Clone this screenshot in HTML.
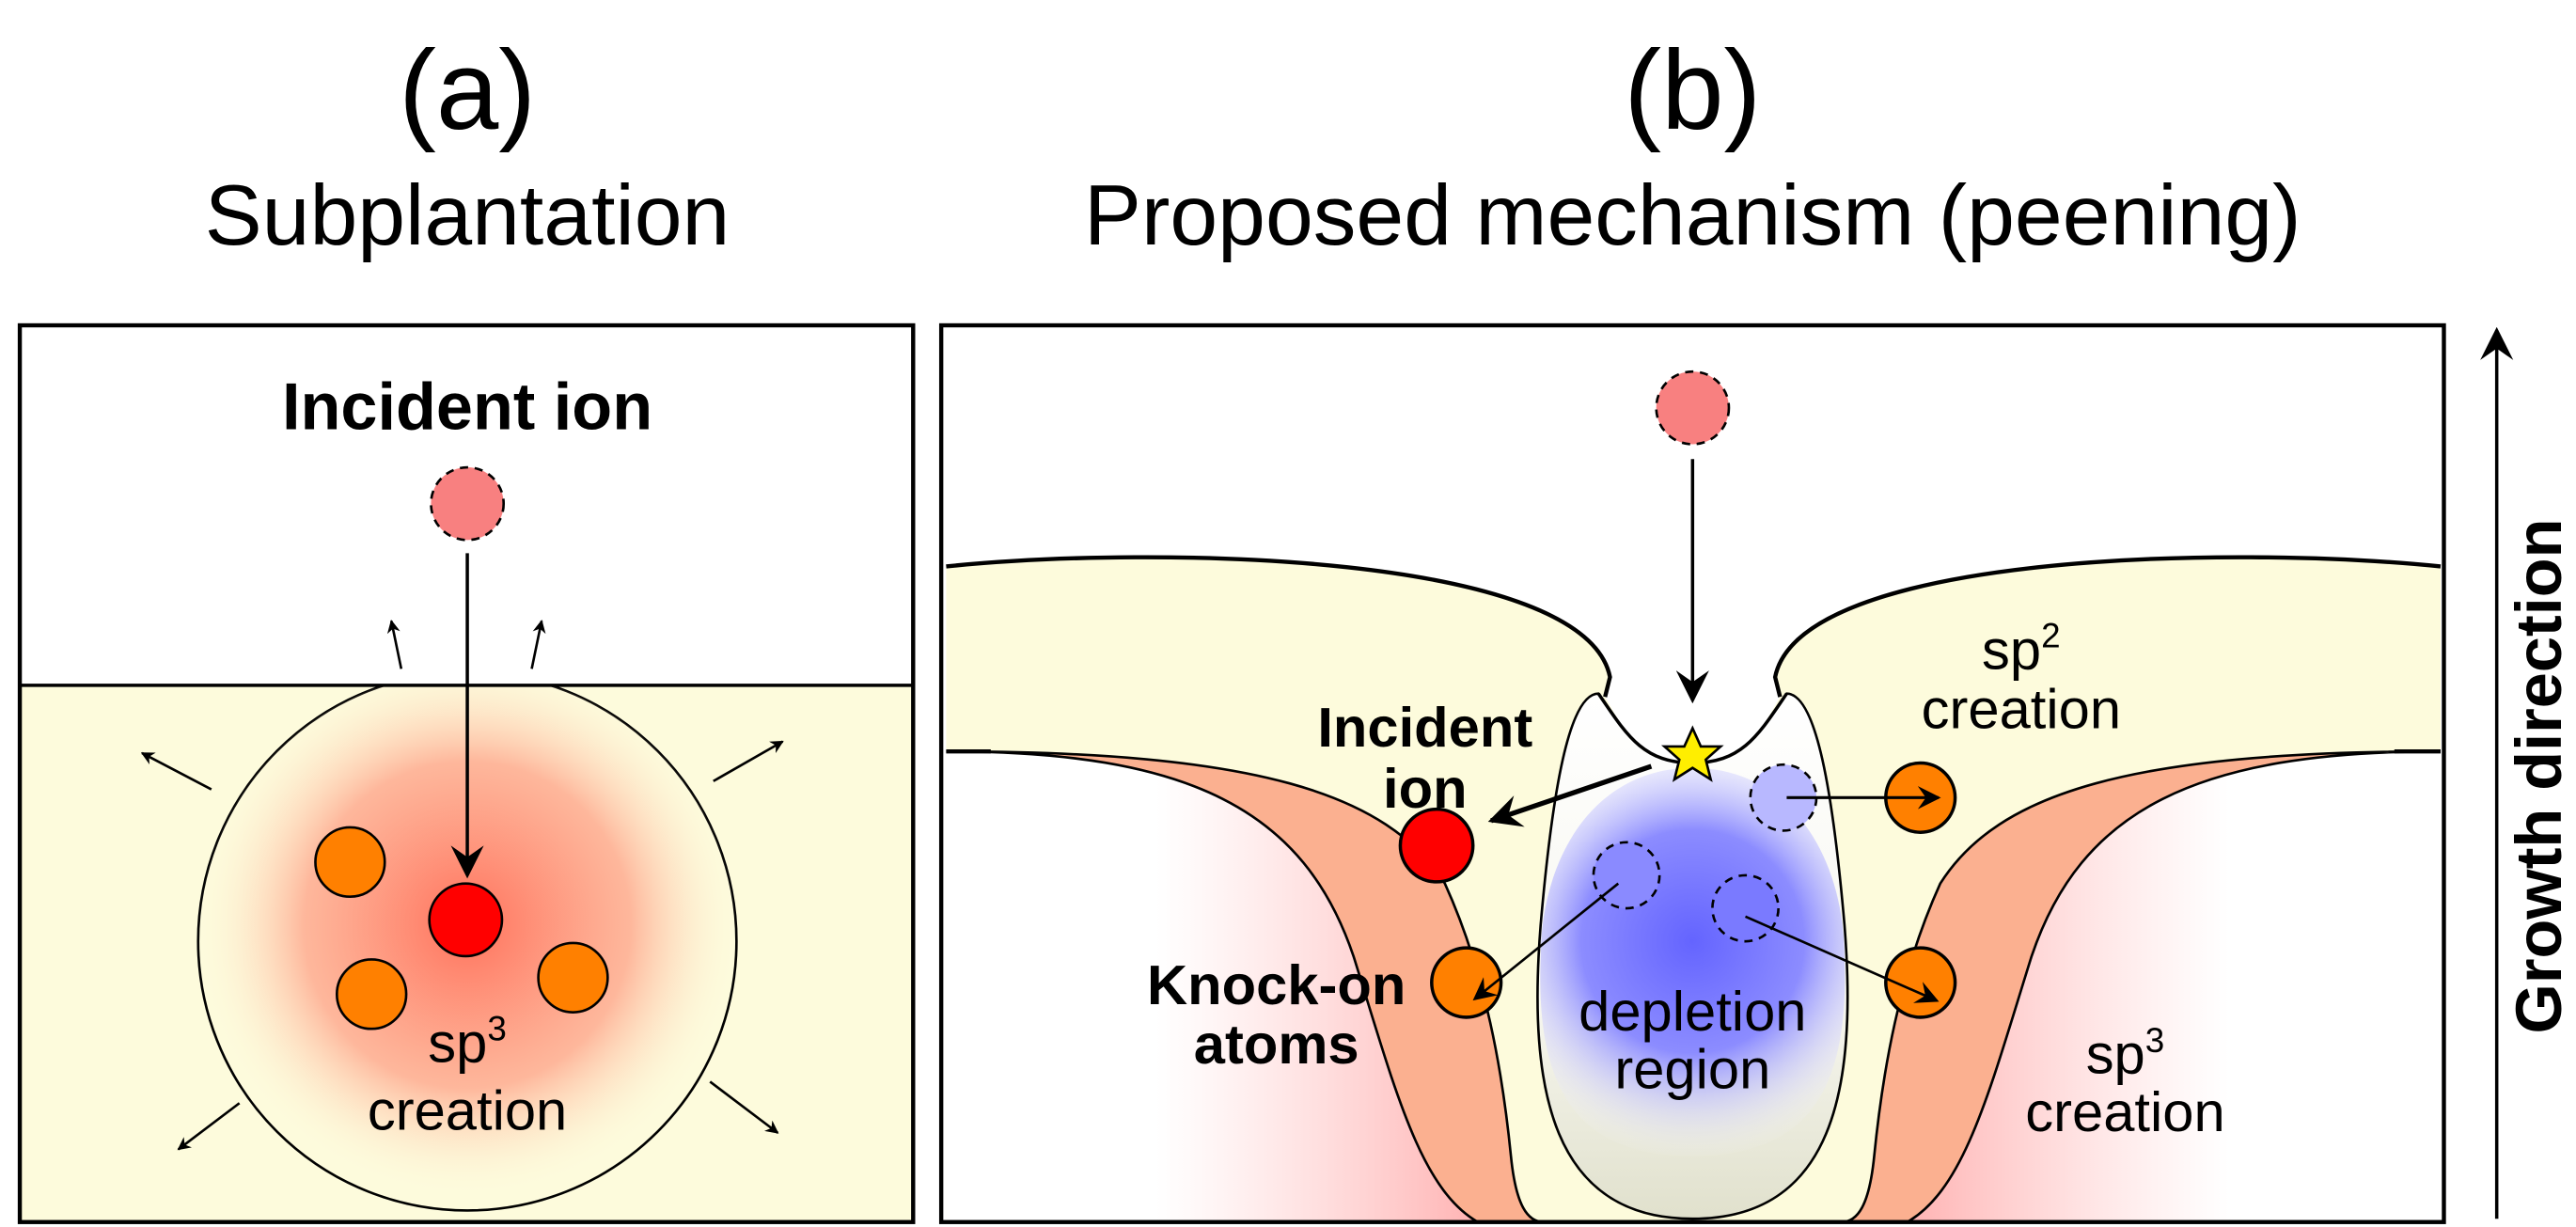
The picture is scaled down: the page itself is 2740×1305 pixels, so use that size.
<!DOCTYPE html>
<html><head><meta charset="utf-8"><style>html,body{margin:0;padding:0;background:#fff}svg{display:block}text{font-family:"Liberation Sans",Arial,sans-serif}</style></head>
<body>
<svg width="2740" height="1305" viewBox="0 0 1560 743" preserveAspectRatio="none" xmlns="http://www.w3.org/2000/svg">
<defs>
<marker id="ah" viewBox="0 0 10 10" refX="9" refY="5" markerWidth="8" markerHeight="8" orient="auto" markerUnits="userSpaceOnUse"><path d="M0,0 L10,5 L0,10 L3,5 z" fill="#000"/></marker>
<marker id="ahB" viewBox="0 0 10 10" refX="9" refY="5" markerWidth="20" markerHeight="20" orient="auto" markerUnits="userSpaceOnUse"><path d="M0,0 L10,5 L0,10 L3.5,5 z" fill="#000"/></marker>
<marker id="ahS" viewBox="0 0 10 10" refX="9" refY="5" markerWidth="14" markerHeight="14" orient="auto" markerUnits="userSpaceOnUse"><path d="M0,0 L10,5 L0,10 L3.5,5 z" fill="#000"/></marker>
<radialGradient id="rg" cx="283" cy="560" r="165" gradientUnits="userSpaceOnUse"><stop offset="0" stop-color="#ff6a55" stop-opacity="0.95"/><stop offset="0.6" stop-color="#ff9a80" stop-opacity="0.7"/><stop offset="1" stop-color="#fdfbdc" stop-opacity="0"/></radialGradient>
<radialGradient id="bg" cx="1025" cy="570" r="135" gradientUnits="userSpaceOnUse"><stop offset="0" stop-color="#6464ff"/><stop offset="0.5" stop-color="#8c8cff"/><stop offset="1" stop-color="#ffffff" stop-opacity="0"/></radialGradient>
<linearGradient id="ug" x1="0" y1="420" x2="0" y2="740" gradientUnits="userSpaceOnUse"><stop offset="0" stop-color="#ffffff"/><stop offset="0.6" stop-color="#f6f6ee"/><stop offset="1" stop-color="#e0e0cc"/></linearGradient>
<linearGradient id="pkL" x1="700" y1="0" x2="900" y2="0" gradientUnits="userSpaceOnUse"><stop offset="0" stop-color="#ffcccc" stop-opacity="0"/><stop offset="1" stop-color="#ffb0b0"/></linearGradient>
<linearGradient id="pkR" x1="1350" y1="0" x2="1150" y2="0" gradientUnits="userSpaceOnUse"><stop offset="0" stop-color="#ffcccc" stop-opacity="0"/><stop offset="1" stop-color="#ffb0b0"/></linearGradient>
<clipPath id="ca"><rect x="12" y="415" width="541" height="325"/></clipPath>
</defs>
<text x="283" y="78" font-size="68" text-anchor="middle">(a)</text>
<text x="283" y="148" font-size="52" text-anchor="middle">Subplantation</text>
<text x="1025" y="78" font-size="68" text-anchor="middle">(b)</text>
<text x="1025" y="148" font-size="52" text-anchor="middle">Proposed mechanism (peening)</text>

<!-- panel a -->
<rect x="12" y="415" width="541" height="325" fill="#fdfbdc"/>
<g clip-path="url(#ca)">
<circle cx="283" cy="570" r="163" fill="#fdfbdc" stroke="#000" stroke-width="1.5"/>
<circle cx="283" cy="570" r="163" fill="url(#rg)"/>
</g>
<line x1="12" y1="415" x2="553" y2="415" stroke="#000" stroke-width="2"/>
<rect x="12" y="197" width="541" height="543" fill="none" stroke="#000" stroke-width="2.5"/>
<text x="283" y="260" font-size="40" font-weight="bold" text-anchor="middle">Incident ion</text>
<circle cx="283" cy="305" r="22" fill="#f88080" stroke="#000" stroke-width="1.5" stroke-dasharray="5,4"/>
<line x1="283" y1="335" x2="283" y2="530" stroke="#000" stroke-width="2" marker-end="url(#ahB)"/>
<g stroke="#000" stroke-width="1.5" marker-end="url(#ah)">
<line x1="243" y1="405" x2="237" y2="376"/>
<line x1="322" y1="405" x2="328" y2="376"/>
<line x1="128" y1="478" x2="86" y2="456"/>
<line x1="432" y1="473" x2="474" y2="449"/>
<line x1="145" y1="668" x2="108" y2="696"/>
<line x1="430" y1="655" x2="471" y2="686"/>
</g>
<circle cx="212" cy="522" r="21" fill="#ff8000" stroke="#000" stroke-width="1.5"/>
<circle cx="225" cy="602" r="21" fill="#ff8000" stroke="#000" stroke-width="1.5"/>
<circle cx="347" cy="592" r="21" fill="#ff8000" stroke="#000" stroke-width="1.5"/>
<circle cx="282" cy="557" r="22" fill="#ff0000" stroke="#000" stroke-width="1.5"/>
<text x="283" y="643" font-size="34" text-anchor="middle">sp<tspan font-size="21" dy="-13">3</tspan></text>
<text x="283" y="684" font-size="34" text-anchor="middle">creation</text>

<!-- panel b -->
<path d="M573,343 C700,330 960,335 975,410 L972,422 C985,445 995,462 1025,462 C1055,462 1065,445 1078,422 L1075,410 C1090,335 1350,330 1478,343 L1478,740 L573,740 Z" fill="#fdfbdc"/>
<path d="M573,455 C720,455 790,490 820,580 C845,660 860,720 895,740 L573,740 Z" fill="#fff"/>
<path d="M1478,455 C1330,455 1260,490 1230,580 C1205,660 1190,720 1155,740 L1478,740 Z" fill="#fff"/>
<path d="M700,470 C780,490 810,540 830,600 C850,670 862,720 895,740 L700,740 Z" fill="url(#pkL)"/>
<path d="M1350,470 C1270,490 1240,540 1220,600 C1200,670 1188,720 1155,740 L1350,740 Z" fill="url(#pkR)"/>
<path d="M573,455 C760,455 840,480 875,535 C900,590 910,650 915,700 C918,730 925,740 935,740 L895,740 C860,720 845,660 820,580 C790,490 720,455 573,455 Z" fill="#fbb090" stroke="#000" stroke-width="1.5"/>
<path d="M1478,455 C1290,455 1210,480 1175,535 C1150,590 1140,650 1135,700 C1132,730 1125,740 1115,740 L1155,740 C1190,720 1205,660 1230,580 C1260,490 1330,455 1478,455 Z" fill="#fbb090" stroke="#000" stroke-width="1.5"/>
<path d="M573,343 C700,330 960,335 975,410 L972,422" fill="none" stroke="#000" stroke-width="2.5"/>
<path d="M1478,343 C1350,330 1090,335 1075,410 L1078,422" fill="none" stroke="#000" stroke-width="2.5"/>
<path d="M968,420 C985,445 995,462 1025,462 C1055,462 1065,445 1082,420 C1100,420 1110,480 1117,560 C1125,660 1110,738 1025,738 C940,738 925,660 933,560 C940,480 950,420 968,420 Z" fill="url(#ug)" stroke="#000" stroke-width="1.5"/>
<path d="M1025,465 C1085,465 1117,520 1117,580 C1120,660 1095,700 1025,700 C955,700 930,660 933,580 C933,520 965,465 1025,465 Z" fill="url(#bg)"/>
<path d="M968,420 C985,445 995,462 1025,462 C1055,462 1065,445 1082,420" fill="none" stroke="#000" stroke-width="2"/>
<line x1="573" y1="455" x2="600" y2="455" stroke="#000" stroke-width="2.5"/>
<line x1="1450" y1="455" x2="1478" y2="455" stroke="#000" stroke-width="2.5"/>
<rect x="570" y="197" width="910" height="543" fill="none" stroke="#000" stroke-width="2.5"/>

<circle cx="1025" cy="247" r="22" fill="#f88080" stroke="#000" stroke-width="1.5" stroke-dasharray="5,4"/>
<line x1="1025" y1="278" x2="1025" y2="424" stroke="#000" stroke-width="2" marker-end="url(#ahB)"/>
<polygon points="1025,441 1030,452 1042,452 1033,460 1036,472 1025,465 1014,472 1017,460 1008,452 1020,452" fill="#ffee00" stroke="#000" stroke-width="1.5"/>
<circle cx="1080" cy="483" r="20" fill="#b8b8ff" stroke="#000" stroke-width="1.5" stroke-dasharray="5,4"/>
<circle cx="985" cy="530" r="20" fill="#8a8aff" stroke="#000" stroke-width="1.5" stroke-dasharray="5,4"/>
<circle cx="1057" cy="550" r="20" fill="#7a7aff" stroke="#000" stroke-width="1.5" stroke-dasharray="5,4"/>
<circle cx="870" cy="512" r="22" fill="#ff0000" stroke="#000" stroke-width="2"/>
<circle cx="888" cy="595" r="21" fill="#ff8000" stroke="#000" stroke-width="2"/>
<circle cx="1163" cy="483" r="21" fill="#ff8000" stroke="#000" stroke-width="2"/>
<circle cx="1163" cy="595" r="21" fill="#ff8000" stroke="#000" stroke-width="2"/>
<line x1="1000" y1="464" x2="903" y2="497" stroke="#000" stroke-width="3" marker-end="url(#ahB)"/>
<line x1="1082" y1="483" x2="1174" y2="483" stroke="#000" stroke-width="1.8" marker-end="url(#ahS)"/>
<line x1="980" y1="535" x2="893" y2="605" stroke="#000" stroke-width="1.5" marker-end="url(#ahS)"/>
<line x1="1057" y1="555" x2="1173" y2="606" stroke="#000" stroke-width="1.5" marker-end="url(#ahS)"/>
<text x="863" y="452" font-size="34" font-weight="bold" text-anchor="middle">Incident</text>
<text x="863" y="489" font-size="34" font-weight="bold" text-anchor="middle">ion</text>
<text x="773" y="608" font-size="34" font-weight="bold" text-anchor="middle">Knock-on</text>
<text x="773" y="644" font-size="34" font-weight="bold" text-anchor="middle">atoms</text>
<text x="1025" y="624" font-size="34" text-anchor="middle">depletion</text>
<text x="1025" y="659" font-size="34" text-anchor="middle">region</text>
<text x="1224" y="405" font-size="34" text-anchor="middle">sp<tspan font-size="21" dy="-13">2</tspan></text>
<text x="1224" y="441" font-size="34" text-anchor="middle">creation</text>
<text x="1287" y="650" font-size="34" text-anchor="middle">sp<tspan font-size="21" dy="-13">3</tspan></text>
<text x="1287" y="685" font-size="34" text-anchor="middle">creation</text>

<line x1="1512" y1="738" x2="1512" y2="200" stroke="#000" stroke-width="2" marker-end="url(#ahB)"/>
<text transform="translate(1551,470) rotate(-90)" font-size="39" font-weight="bold" text-anchor="middle">Growth direction</text>
</svg>
</body></html>
